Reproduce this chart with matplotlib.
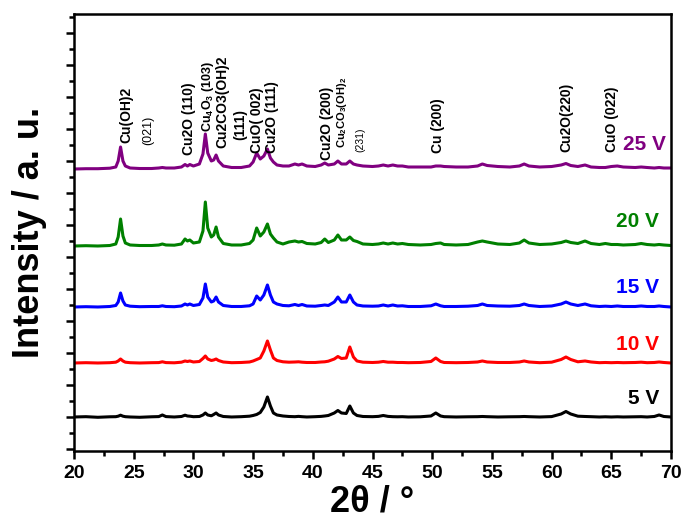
import matplotlib
matplotlib.use("Agg")
import matplotlib.pyplot as plt
from matplotlib.ticker import MultipleLocator, NullFormatter

# ===============================
# Data
# ===============================
two_theta = [
    20.0, 21.0, 22.0, 23.0, 23.5, 23.7, 23.9, 24.1, 24.3, 24.7,
    25.5, 26.5, 27.1, 27.4, 27.7, 28.4, 29.0, 29.3, 29.5, 29.7,
    30.0, 30.5, 30.8, 31.0, 31.2, 31.5, 31.7, 31.9, 32.1, 32.5,
    33.2, 34.0, 34.7, 35.0, 35.3, 35.6, 35.9, 36.2, 36.45, 36.7,
    37.0, 37.5, 38.0, 38.5, 38.8, 39.1, 39.5, 40.2, 40.7, 41.0,
    41.3, 41.8, 42.1, 42.4, 42.8, 43.1, 43.4, 43.7, 44.2, 45.0,
    45.5, 45.9, 46.3, 46.7, 47.1, 47.5, 48.0, 49.0, 49.9, 50.3,
    50.7, 51.0, 52.0, 53.0, 53.8, 54.2, 54.6, 55.5, 56.5, 57.3,
    57.7, 58.1, 59.0, 60.0, 60.8, 61.2, 61.6, 62.2, 62.8, 63.3,
    64.0, 64.5, 65.0, 65.5, 66.0, 67.0, 67.5, 68.0, 68.6, 69.0,
    69.4, 70.0,
]

i_5v = [
    0, 0.3, -0.3, 0.2, 0.3, 0.8, 1.8, 0.8, 0.3, 0,
    -0.3, 0.2, 0.4, 2.0, 0.4, 0, 0.5, 1.8, 1.0, 0.8,
    0.3, 0.5, 2.0, 4.0, 2.0, 1.2, 2.5, 4.0, 2.0, 0.5,
    0, 0.3, 0.8, 1.5, 2.5, 4.5, 10, 20, 11, 4,
    2, 1, 0.5, 0.3, 0.6, 0.3, 0, 0.3, 0.6, 1.0,
    1.5, 4, 6.5, 4, 3.5, 11, 4, 1.5, 0.5, 0.3,
    0.6, 1.5, 0.6, 0.3, 0.2, 0.3, 0, 0.2, 1.0, 4.0,
    1.0, 0.3, 0, 0.2, 0.3, 0.5, 0.3, 0, 0.2, 0.3,
    0.5, 0.3, 0, 0.4, 3.0, 5.5, 3.0, 0.8, 0.5, 0.3,
    0, 0.2, 0, 0.2, 0, 0.2, 0.3, 0, 0.5, 2.0,
    0.5, 0,
]

i_10v = [
    0, 0.3, 0, 0.3, 0.8, 2.0, 4.0, 2.0, 0.8, 0.3,
    0, 0.3, 0.4, 1.2, 0.4, 0.2, 0.8, 2.0, 1.5, 2.0,
    1.0, 1.5, 4.5, 7.0, 4.0, 2.5, 3.0, 4.0, 2.5, 1.0,
    0.3, 0.5, 1.0, 2.0, 3.5, 5.0, 12, 22, 13, 5,
    2.5, 1.2, 0.8, 1.0, 1.2, 0.8, 0.5, 0.5, 1.0, 1.2,
    1.8, 4, 6.5, 4.5, 5, 16, 6, 2, 0.8, 0.5,
    0.8, 1.5, 0.8, 0.8, 0.5, 0.5, 0.3, 0.5, 1.5, 5,
    1.5, 0.5, 0.3, 0.5, 1.0, 2.0, 1.0, 0.5, 0.5, 1.0,
    2.0, 1.0, 0.3, 0.8, 3.5, 6, 3.5, 1.2, 2.0, 1.0,
    0.3, 0.5, 0.3, 0.5, 0.3, 0.5, 0.8, 0.3, 0.5, 1.0,
    0.5, 0,
]

i_15v = [
    0, 0.3, 0, 0.5, 1.5, 5, 14, 6, 2, 0.8,
    0.3, 0.5, 0.5, 1.2, 0.5, 0.3, 1.0, 3.0, 2.0, 3.0,
    1.5, 2.5, 9, 23, 10, 5, 6, 10, 5, 1.5,
    0.5, 0.5, 1.2, 3, 11, 7, 12, 22, 12, 5,
    3, 1.5, 1.2, 2.5, 1.5, 2.5, 1, 0.8, 1.5, 2.0,
    1.5, 5, 10, 5, 5, 12, 5, 2, 1, 0.8,
    1.0, 2.0, 1.0, 2.0, 1.0, 1.2, 0.5, 0.5, 1.2, 3,
    1.2, 0.5, 0.5, 0.8, 1.5, 3, 1.5, 1.0, 0.8, 1.5,
    3, 1.5, 0.5, 1.0, 3, 5, 3, 1.5, 3, 1.2,
    0.5, 0.8, 0.5, 1.0, 0.5, 0.5, 1.0, 0.5, 0.5, 1.0,
    0.5, 0,
]

i_20v = [
    0, 0.3, 0, 0.5, 2, 9, 27, 10, 3, 1,
    0.5, 0.5, 1.0, 2.0, 1.0, 0.8, 2.0, 7, 5, 6,
    3, 4, 15, 44, 18, 9, 11, 19, 9, 2.5,
    1, 1, 2.5, 6, 18, 10, 14, 22, 12, 8,
    4, 2, 4, 5, 4, 4.5, 2.5, 2, 3.5, 7,
    3.5, 6, 11, 6, 6, 9, 5.5, 4.5, 2, 1.5,
    2, 3, 2, 3, 2, 2.5, 1.5, 1, 1.5, 2.5,
    3, 1.5, 1, 1.5, 4, 5, 4, 2, 1.5, 3,
    6, 3, 1.5, 2, 3.5, 5, 3.5, 2.5, 5, 2.5,
    1.5, 2.5, 1.5, 1.5, 1, 1.5, 2.5, 1.5, 1, 1.5,
    1, 0.5,
]

i_25v = [
    0, 0.3, 0.3, 0.8, 2, 8, 22, 8, 3, 1,
    0.5, 0.5, 1, 1.5, 1, 1, 2, 4.5, 3, 4.5,
    3, 5, 15, 35, 16, 8, 9, 14, 8, 3,
    1.5, 1.5, 3, 7, 16, 10, 13, 20, 11, 7,
    4, 3, 3, 5, 4, 5, 3, 2.5, 4, 6,
    4, 5, 8, 5, 5, 8, 5, 4, 3, 2.5,
    3, 4, 3, 4, 3, 3, 2, 2, 2, 3,
    3, 2.5, 2, 2, 3, 5, 3.5, 2.5, 2, 3,
    5, 3, 2, 2.5, 4, 5.5, 3.5, 2.5, 4, 2,
    1.5, 1.5, 2.5, 3, 2, 1.5, 2, 1.5, 1, 1.5,
    1, 1,
]

series = [i_5v, i_10v, i_15v, i_20v, i_25v]
series_names = ["5 V", "10 V", "15 V", "20 V", "25 V"]
offsets = [32, 86, 142, 203, 280]
colors = ["black", "#ff0000", "#0000ff", "#008000", "#800080"]
name_x = [69.0, 69.0, 69.0, 69.0, 69.6]
name_y = [50, 104, 161, 228, 305]

# Peak assignments (rotated labels above the 25 V pattern)
peak_labels = [
    "Cu(OH)2", "(021)", "Cu2O (110)", "Cu$_4$O$_3$ (103)", "Cu2CO3(OH)2",
    "(111)", "CuO( 002)", "Cu2O (111)", "Cu2O (200)", "Cu$_2$CO$_3$(OH)$_2$",
    "(231)", "Cu (200)", "Cu2O(220)", "CuO (022)",
]
peak_label_x = [24.42, 26.18, 29.6, 31.19, 32.44, 33.94, 35.36, 36.61,
                41.2, 42.45, 43.96, 50.47, 61.24, 65.08]
peak_label_y = [306, 304, 294, 317, 301, 309, 296, 296, 289, 301, 297, 296,
                297, 297]
peak_label_size = [10, 9, 10, 9, 10, 10, 10, 10, 10, 8, 7.5, 10, 10, 10]
peak_label_bold = [True, False, True, True, True, True, True, True, True,
                   True, False, True, True, True]

# ===============================
# Plot
# ===============================
plt.rcParams["mathtext.default"] = "regular"
sans = ["Liberation Sans", "DejaVu Sans"]

fig = plt.figure(figsize=(6.82, 5.23), dpi=100)
ax = fig.add_axes([0.1085, 0.1377, 0.8754, 0.8355])

for vals, off, col in zip(series, offsets, colors):
    ax.plot(two_theta, [v + off for v in vals], color=col, lw=2.2,
            solid_joinstyle="round")

for name, x, y, col in zip(series_names, name_x, name_y, colors):
    ax.text(x, y, name, color=col, fontsize=15, fontweight="bold",
            family=sans, ha="right", va="center")

for lab, x, y, s, b in zip(peak_labels, peak_label_x, peak_label_y,
                           peak_label_size, peak_label_bold):
    ax.text(x, y, lab, rotation=90, ha="center", va="bottom", fontsize=s,
            fontweight="bold" if b else "normal", family=sans, color="black")

ax.set_xlim(20, 70)
ax.set_ylim(-2, 435)

ax.xaxis.set_major_locator(MultipleLocator(5))
ax.xaxis.set_minor_locator(MultipleLocator(2.5))
ax.yaxis.set_major_locator(MultipleLocator(32))
ax.yaxis.set_minor_locator(MultipleLocator(16))
ax.yaxis.set_major_formatter(NullFormatter())

ax.tick_params(which="both", direction="out", width=1.8, top=False,
               right=False)
ax.tick_params(which="major", length=6)
ax.tick_params(which="minor", length=3.5)
ax.tick_params(axis="x", pad=4)

for lab in ax.get_xticklabels():
    lab.set_family(sans)
    lab.set_fontweight("bold")
    lab.set_fontsize(14)

for sp in ax.spines.values():
    sp.set_linewidth(1.8)

ax.set_xlabel("2θ / °", family=sans, fontweight="bold", fontsize=26,
              labelpad=2)
ax.set_ylabel("Intensity / a. u.", family=sans, fontweight="bold",
              fontsize=26, labelpad=10)

fig.savefig("out.png", dpi=100)
